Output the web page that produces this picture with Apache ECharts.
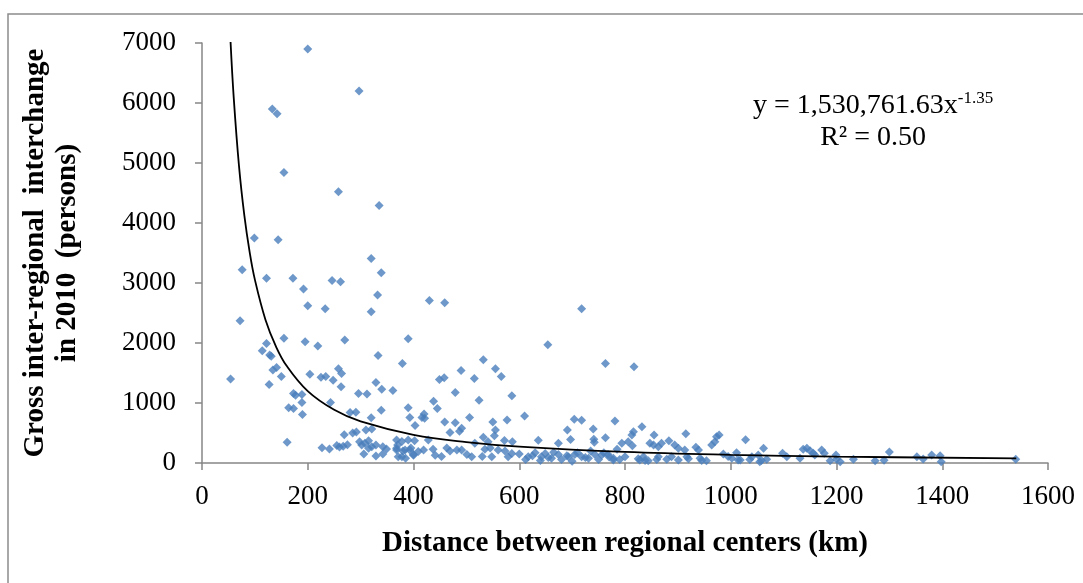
<!DOCTYPE html>
<html>
<head>
<meta charset="utf-8">
<title>Gross inter-regional interchange vs distance</title>
<script src="https://cdn.jsdelivr.net/npm/echarts@6/dist/echarts.min.js"></script>
<style>
  html, body { margin: 0; padding: 0; background: #fff; }
  #chart { width: 1083px; height: 583px; }
</style>
</head>
<body>
<div id="chart"></div>
<script>
// distance between regional centers (km)
const distance = [
  200, 297, 133, 142, 155, 258, 335, 99, 144,
  320, 339, 76, 122, 172, 246, 262, 192, 332, 200, 233, 320, 72, 155, 195, 270, 390, 219, 122, 114, 128,
  131, 333, 379, 141, 134, 258, 264, 204, 225, 234, 150, 54, 248, 329, 127, 263, 340, 361, 173, 177,
  189, 296, 312, 189, 243, 164, 173, 190, 280, 291, 339, 390, 320, 269, 285, 292, 310, 321, 161, 227,
  241, 255, 260, 267, 275, 298, 302, 308, 315, 306, 315, 321, 329, 329, 342, 342, 349, 368, 371,
  430, 459, 718, 654, 763, 532, 555, 566, 490, 449, 458, 515, 479, 586, 524, 438, 445, 393, 420, 416,
  421, 403, 459, 479, 506, 550, 577, 610, 704, 718, 740, 781, 691, 697, 741, 763, 674, 636, 469, 487,
  491, 555, 553, 532, 541, 572, 587, 742,
  368, 378, 390, 402, 368, 378, 384, 393, 400, 409, 419, 428, 437, 441, 453, 463, 469, 482, 491, 501,
  510, 516, 530, 535, 545, 548, 560, 573, 579, 586, 617, 630, 642, 649, 661, 674, 693, 705, 718, 731,
  743, 768, 778, 370, 380, 395, 400, 385,
  600, 612, 625, 640, 655, 665, 680, 690, 700, 710, 725, 735, 750, 760, 770, 785, 790,
  817, 832, 813, 816, 855, 915, 978, 1028, 794, 806, 814, 847, 854, 863, 869, 883, 894, 901, 913, 934,
  939, 964, 970, 973, 1011, 1014, 1062, 1052, 1098, 1106, 1137, 1144, 1150, 1156, 1131, 1172, 1177, 1188, 1200, 1207,
  1199, 1232, 1273, 1290, 1300, 1352, 1364, 1380, 1396, 1398, 1539,
  756, 778, 800, 828, 835, 844, 863, 879, 888, 901, 917, 942, 954, 986, 1002, 1018, 1040, 1055, 1068, 1159,
  825, 838, 860, 920, 945, 995, 1036, 1058
];

// gross inter-regional interchange in 2010 (persons)
const interchange = [
  6900, 6200, 5900, 5820, 4840, 4520, 4290, 3750, 3720,
  3410, 3170, 3220, 3080, 3080, 3040, 3020, 2900, 2800, 2620, 2570, 2520, 2370, 2080, 2020, 2050, 2070, 1950, 1990, 1870, 1800,
  1780, 1790, 1660, 1590, 1550, 1570, 1490, 1480, 1430, 1440, 1440, 1400, 1380, 1340, 1310, 1270, 1230, 1210, 1160, 1130,
  1140, 1160, 1150, 1010, 1010, 920, 910, 810, 840, 845, 880, 920, 755, 470, 500, 515, 550, 565, 345, 255,
  233, 290, 265, 280, 305, 355, 300, 330, 370, 150, 245, 270, 300, 115, 150, 270, 235, 245, 105,
  2710, 2670, 2570, 1970, 1660, 1720, 1570, 1440, 1540, 1390, 1420, 1410, 1175, 1120, 1045, 1030, 910, 760, 815, 760,
  745, 625, 683, 670, 760, 685, 717, 785, 730, 711, 567, 700, 550, 390, 395, 422, 330, 380, 510, 530,
  578, 550, 456, 430, 356, 375, 356, 344,
  383, 360, 383, 370, 217, 106, 217, 217, 140, 190, 217, 383, 230, 130, 110, 250, 200, 217, 217, 140,
  106, 330, 110, 230, 250, 106, 217, 200, 106, 160, 106, 170, 106, 160, 80, 140, 106, 140, 106, 80,
  140, 140, 80, 300, 200, 250, 130, 80,
  150, 60, 120, 40, 90, 180, 60, 120, 30, 170, 90, 200, 60, 170, 100, 230, 60,
  1606, 606, 467, 522, 467, 486, 467, 389, 328, 356, 289, 328, 300, 272, 328, 372, 300, 244, 217, 261,
  217, 300, 356, 439, 172, 50, 244, 133, 161, 106, 228, 244, 206, 161, 78, 217, 161, 39, 61, 22,
  133, 61, 39, 44, 183, 106, 67, 133, 122, 22, 61,
  133, 50, 106, 50, 106, 39, 106, 61, 106, 50, 106, 78, 39, 150, 78, 50, 106, 22, 61, 133,
  70, 40, 60, 70, 40, 110, 60, 40
];

// power trendline as drawn in the picture (km, persons)
const trendDistance = [54, 60, 70, 80, 90, 100, 120, 140, 160, 200, 250, 300, 400, 500, 600, 800, 1000, 1200, 1540];
const trendValue = [7020, 6090, 4947, 4131, 3523, 3056, 2389, 1940, 1620, 1198, 886, 693, 470, 348, 272, 184, 136, 107, 76];

const xTicks = [0, 1600, 200];   // min, max, step
const yTicks = [0, 7000, 1000];

const chart = echarts.init(document.getElementById('chart'));

const serif = 'Liberation Serif, Times New Roman, serif';
const axisGrey = '#868686';

const option = {
  backgroundColor: '#fff',
  animation: false,
  grid: { left: 202, right: 35, top: 43, bottom: 120 },
  xAxis: {
    type: 'value',
    min: xTicks[0], max: xTicks[1], interval: xTicks[2],
    name: 'Distance between regional centers (km)',
    nameLocation: 'middle',
    nameGap: 66,
    nameTextStyle: { fontFamily: serif, fontWeight: 'bold', fontSize: 29, color: '#000' },
    axisLine: { show: true, lineStyle: { color: axisGrey, width: 1.5 } },
    axisTick: { show: true, length: 7, lineStyle: { color: axisGrey, width: 1.5 } },
    splitLine: { show: false },
    axisLabel: { fontFamily: serif, fontSize: 27, color: '#000', margin: 20, formatter: v => String(v) }
  },
  yAxis: {
    type: 'value',
    min: yTicks[0], max: yTicks[1], interval: yTicks[2],
    name: 'Gross inter-regional  interchange\nin 2010  (persons)',
    nameLocation: 'middle',
    nameGap: 118,
    nameTextStyle: { fontFamily: serif, fontWeight: 'bold', fontSize: 29, lineHeight: 32, color: '#000' },
    axisLine: { show: true, lineStyle: { color: axisGrey, width: 1.5 } },
    axisTick: { show: true, length: 7, lineStyle: { color: axisGrey, width: 1.5 } },
    splitLine: { show: false },
    axisLabel: { fontFamily: serif, fontSize: 27, color: '#000', margin: 26, formatter: v => String(v) }
  },
  graphic: [
    {
      type: 'rect',
      shape: { x: 8, y: 14, width: 1100, height: 620 },
      style: { fill: null, stroke: '#8c8c8c', lineWidth: 1.5 },
      silent: true
    },
    {
      type: 'text',
      left: 753,
      top: 90,
      style: {
        text: '{b|y = 1,530,761.63x}{s|-1.35}\n{b|R² = 0.50}',
        align: 'center',
        fill: '#000',
        rich: {
          b: { fontFamily: serif, fontSize: 28, lineHeight: 32, align: 'center' },
          s: { fontFamily: serif, fontSize: 17, verticalAlign: 'top', lineHeight: 32, padding: [0, 0, 14, 0] }
        }
      }
    }
  ],
  series: [
    {
      name: 'Interchange',
      type: 'scatter',
      symbol: 'diamond',
      symbolSize: 9,
      itemStyle: { color: '#4a7ebb' },
      data: distance.map((d, i) => [d, interchange[i]]),
      z: 3
    },
    {
      name: 'Power trend',
      type: 'line',
      smooth: 0.4,
      symbol: 'none',
      lineStyle: { color: '#000', width: 1.8 },
      data: trendDistance.map((d, i) => [d, trendValue[i]]),
      z: 4
    }
  ]
};

chart.setOption(option);
</script>
</body>
</html>
